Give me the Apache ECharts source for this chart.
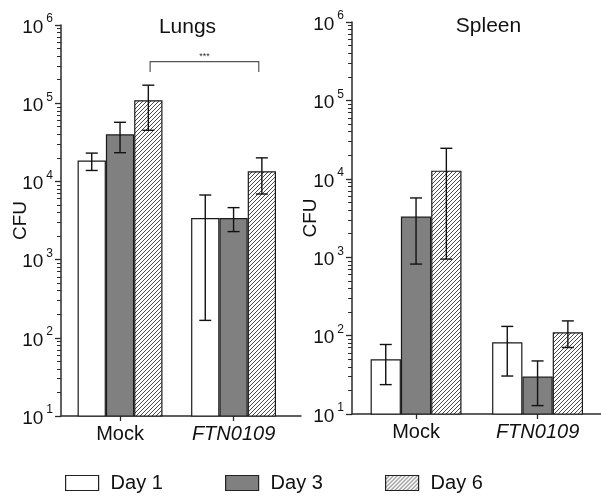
<!DOCTYPE html>
<html>
<head>
<meta charset="utf-8">
<script src="https://cdn.jsdelivr.net/npm/echarts@6/dist/echarts.min.js"></script>
<style>
html,body{margin:0;padding:0;background:#fff;}
#c{width:601px;height:503px;}
</style>
</head>
<body>
<div id="c"></div>
<script>
// ---- data ----
const categories = ['Mock', 'FTN0109'];
const days = ['Day 1', 'Day 3', 'Day 6'];
const panelTitles = ['Lungs', 'Spleen'];

const lungsDay1 = [18500, 3400];
const lungsDay3 = [40000, 3400];
const lungsDay6 = [109000, 13500];
const lungsDay1Err = [[13800, 23000], [167, 6700]];
const lungsDay3Err = [[23300, 57000], [2280, 4620]];
const lungsDay6Err = [[45000, 170000], [6900, 20000]];

const spleenDay1 = [50, 82];
const spleenDay3 = [3300, 30];
const spleenDay6 = [12700, 110];
const spleenDay1Err = [[23.7, 77], [30.5, 131]];
const spleenDay3Err = [[817, 5700], [12.8, 47.5]];
const spleenDay6Err = [[946, 24500], [70.5, 154]];

const yMajorTicks = [10, 100, 1000, 10000, 100000, 1000000];
const yMinorTicks = [20,30,40,50,60,70,80,90,
  200,300,400,500,600,700,800,900,
  2000,3000,4000,5000,6000,7000,8000,9000,
  20000,30000,40000,50000,60000,70000,80000,90000,
  200000,300000,400000,500000,600000,700000,800000,900000];

const sigBracketX = [0.265, 1.222];          // category units (Mock -> FTN0109, Day 6)
const sigBracketY = [250000, 340000];        // leg bottom, top
const sigLabel = '***';

// ---- styles ----
const FONT = '"Liberation Sans", Arial, sans-serif';
const AXIS_COLOR = '#2b2b2b';
const TEXT_COLOR = '#111';

function hatchPattern() {
  const c = document.createElement('canvas');
  c.width = 4; c.height = 4;
  const g = c.getContext('2d');
  g.fillStyle = '#ffffff';
  g.fillRect(0, 0, 4, 4);
  g.fillStyle = '#4a4a4a';
  for (let i = 0; i < 4; i++) g.fillRect(i, 3 - i, 1, 1);
  return c;
}
const hatch = { image: hatchPattern(), repeat: 'repeat' };
const fills = ['#ffffff', '#808080', hatch];

const panels = [
  { grid: { left: 61, top: 25, width: 240, height: 391 }, xMin: -0.52, xMax: 1.594, barW: 28.3, nameGap: 31,
    vals: [lungsDay1, lungsDay3, lungsDay6], errs: [lungsDay1Err, lungsDay3Err, lungsDay6Err] },
  { grid: { left: 352, top: 22, width: 249, height: 392 }, xMin: -0.527, xMax: 1.522, barW: 30.3, nameGap: 32,
    vals: [spleenDay1, spleenDay3, spleenDay6], errs: [spleenDay1Err, spleenDay3Err, spleenDay6Err] }
];

const grids = [], xAxes = [], yAxes = [], series = [];

panels.forEach((p, pi) => {
  grids.push(p.grid);
  xAxes.push({
    type: 'value', gridIndex: pi, min: p.xMin, max: p.xMax,
    axisLine: { show: true, onZero: false, lineStyle: { color: AXIS_COLOR, width: 1.5 } },
    axisTick: { show: true, customValues: [0, 1], length: 5, lineStyle: { color: AXIS_COLOR, width: 1.3 } },
    splitLine: { show: false },
    axisLabel: {
      customValues: [0, 1], margin: 8,
      formatter: v => (Math.round(v) === 0 ? '{n|' : '{i|') + categories[Math.round(v)] + '}',
      rich: {
        n: { fontSize: 20, fontFamily: FONT, color: TEXT_COLOR },
        i: { fontSize: 20, fontFamily: FONT, color: TEXT_COLOR, fontStyle: 'italic' }
      }
    }
  });
  yAxes.push({
    type: 'log', logBase: 10, gridIndex: pi, min: 10, max: 1000000, position: 'left',
    name: 'CFU', nameLocation: 'middle', nameGap: p.nameGap, nameRotate: 90, nameMoveOverlap: false,
    nameTextStyle: { fontSize: 19, fontFamily: FONT, color: TEXT_COLOR },
    axisLine: { show: true, onZero: false, lineStyle: { color: AXIS_COLOR, width: 1.5 } },
    axisTick: { show: true, customValues: yMajorTicks, length: 6, lineStyle: { color: AXIS_COLOR, width: 1.3 } },
    splitLine: { show: false },
    axisLabel: {
      customValues: yMajorTicks, margin: 8,
      formatter: v => '{b|10}{s|' + Math.round(Math.log10(v)) + '}',
      rich: {
        b: { fontSize: 19, fontFamily: FONT, color: TEXT_COLOR, padding: [5, 0, 0, 0] },
        s: { fontSize: 12, fontFamily: FONT, color: TEXT_COLOR, verticalAlign: 'top', padding: [0, 0, 0, 3] }
      }
    }
  });
  yAxes.push({
    type: 'log', logBase: 10, gridIndex: pi, min: 10, max: 1000000, position: 'left', offset: 0,
    axisLine: { show: false, onZero: false },
    axisTick: { show: true, customValues: yMinorTicks, length: 4, lineStyle: { color: AXIS_COLOR, width: 1 } },
    axisLabel: { show: false },
    splitLine: { show: false }
  });

  days.forEach((d, k) => {
    series.push({
      type: 'bar', name: d, xAxisIndex: pi, yAxisIndex: pi * 2,
      barWidth: p.barW, barGap: '0%',
      itemStyle: { color: fills[k], borderColor: '#1a1a1a', borderWidth: 1.2 },
      data: p.vals[k].map((v, ci) => [ci, v]),
      z: 2
    });
  });

  const errData = [];
  p.errs.forEach((arr, k) => arr.forEach((e, ci) => errData.push([ci, k, e[0], e[1]])));
  const bw = p.barW;
  series.push({
    type: 'custom', xAxisIndex: pi, yAxisIndex: pi * 2, z: 5, silent: true,
    data: errData,
    renderItem: (params, api) => {
      const ci = api.value(0), k = api.value(1);
      const lo = api.coord([ci, api.value(2)]);
      const hi = api.coord([ci, api.value(3)]);
      const x = lo[0] + (k - 1) * bw;
      const cap = 6;
      const st = { stroke: '#111', lineWidth: 1.4 };
      return { type: 'group', children: [
        { type: 'line', shape: { x1: x, y1: lo[1], x2: x, y2: hi[1] }, style: st },
        { type: 'line', shape: { x1: x - cap, y1: hi[1], x2: x + cap, y2: hi[1] }, style: st },
        { type: 'line', shape: { x1: x - cap, y1: lo[1], x2: x + cap, y2: lo[1] }, style: st }
      ] };
    }
  });
});

// significance bracket (Lungs)
series.push({
  type: 'custom', xAxisIndex: 0, yAxisIndex: 0, z: 5, silent: true,
  data: [[sigBracketX[0], sigBracketX[1], sigBracketY[0], sigBracketY[1]]],
  renderItem: (params, api) => {
    const a = api.coord([api.value(0), api.value(3)]);
    const b = api.coord([api.value(1), api.value(3)]);
    const aBot = api.coord([api.value(0), api.value(2)]);
    const st = { stroke: '#555', lineWidth: 1.2, fill: null };
    return { type: 'group', children: [
      { type: 'polyline', shape: { points: [[a[0], aBot[1]], [a[0], a[1]], [b[0], b[1]], [b[0], aBot[1]]] }, style: st },
      { type: 'text', style: { text: sigLabel, x: (a[0] + b[0]) / 2, y: a[1] - 5, align: 'center', verticalAlign: 'middle',
        fontSize: 9, fontFamily: FONT, fill: '#333' } }
    ] };
  }
});

const legendBase = {
  icon: 'rect', itemWidth: 33, itemHeight: 15, top: 473, padding: 0,
  itemStyle: { borderColor: '#222', borderWidth: 1.2 },
  textStyle: { fontSize: 20, fontFamily: FONT, color: TEXT_COLOR, padding: [0, 0, 0, 7] },
  selectedMode: false
};
const legendLefts = [65, 225, 385];
const legends = days.map((d, k) => Object.assign({}, legendBase, { data: [d], left: legendLefts[k] }));

const chart = echarts.init(document.getElementById('c'), null, { renderer: 'canvas' });
chart.setOption({
  backgroundColor: '#ffffff',
  animation: false,
  grid: grids,
  xAxis: xAxes,
  yAxis: yAxes,
  legend: legends,
  graphic: [
    { type: 'text', x: 187.5, y: 27, style: { text: panelTitles[0], align: 'center', verticalAlign: 'middle', fontSize: 21, fontFamily: FONT, fill: TEXT_COLOR } },
    { type: 'text', x: 488.5, y: 26, style: { text: panelTitles[1], align: 'center', verticalAlign: 'middle', fontSize: 21, fontFamily: FONT, fill: TEXT_COLOR } }
  ],
  series: series
});
</script>
</body>
</html>
